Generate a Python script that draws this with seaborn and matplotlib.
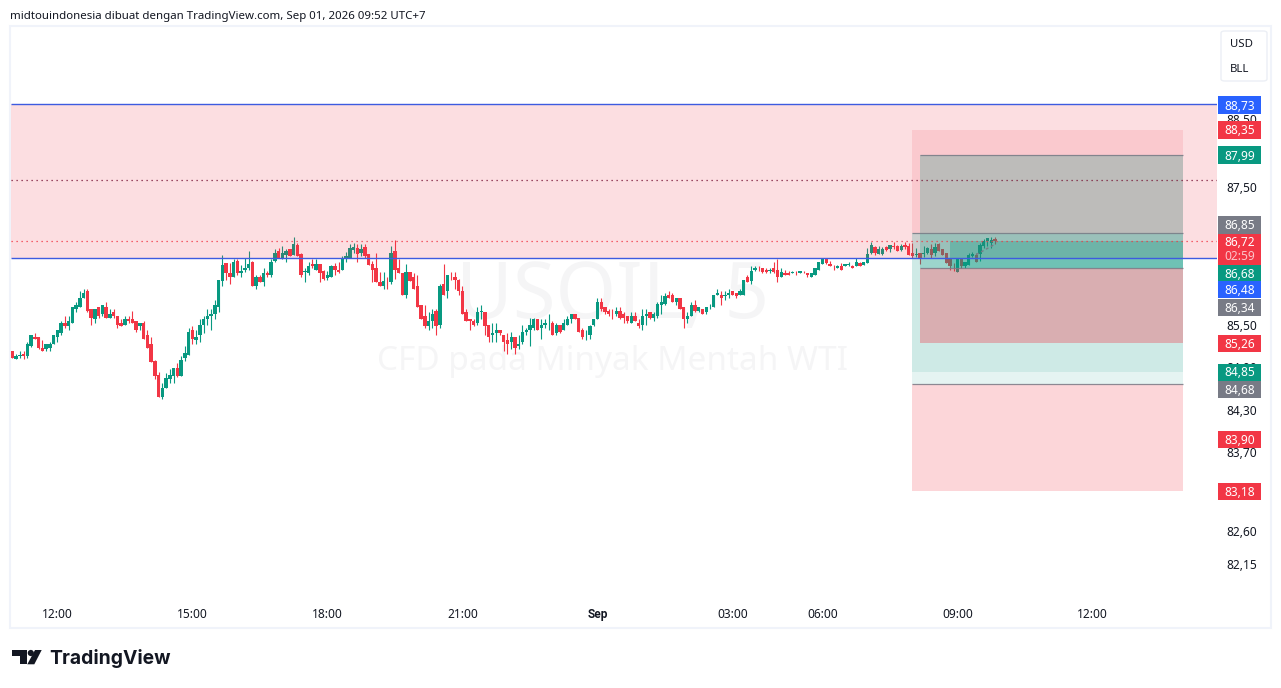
import numpy as np
import pandas as pd
import matplotlib
matplotlib.use("Agg")
import matplotlib.pyplot as plt
from matplotlib.patches import Rectangle, Polygon, Ellipse, FancyBboxPatch
from matplotlib.ticker import NullLocator
from matplotlib.transforms import ScaledTranslation
import seaborn as sns

W, H = 1281, 688
UP = "#089981"
DOWN = "#f23645"
GREY = "#787b86"
BLUE = "#2962ff"

# 5 minute candles, first bar is 11:00
directions = (
    "rggrggrrrg" "ggggrggggg" "rrgrgrgrrr" "grrrgrrrrr" "ggggrgggrg"
    "gggggggrrg" "rgggrgrgrg" "grggrgrrgg" "rgrrggrrgg" "ggrgrrrrrg"
    "rgrrrgrrrr" "rggrgrgrrr" "rrrrggrrgg" "rrrgrggggg" "rgggrgrggg"
    "rrrggggrrr" "rgrrrgrrgg" "rggggrrgrr" "ggrgrggggr" "ggrrggrggr"
    "rrgrrgrrgr" "grrggggrrr" "grggrgrggg" "rggrgrrgrr" "rgrggrgrrr"
    "rrgrgggrgg" "ggr"
)
body_top = [
    85.14, 85.08, 85.09, 85.11, 85.24, 85.37, 85.34, 85.34, 85.19, 85.24,
    85.25, 85.37, 85.44, 85.54, 85.54, 85.58, 85.78, 85.80, 85.91, 85.98,
    86.00, 85.74, 85.74, 85.77, 85.80, 85.78, 85.68, 85.70, 85.64, 85.54,
    85.61, 85.61, 85.61, 85.57, 85.54, 85.55, 85.37, 85.24, 85.01, 84.81,
    84.62, 84.76, 84.81, 84.91, 84.91, 85.02, 85.12, 85.42, 85.44, 85.34,
    85.51, 85.60, 85.64, 85.68, 85.81, 86.17, 86.38, 86.41, 86.26, 86.43,
    86.44, 86.30, 86.33, 86.40, 86.43, 86.21, 86.20, 86.27, 86.26, 86.43,
    86.56, 86.58, 86.56, 86.58, 86.61, 86.69, 86.67, 86.54, 86.30, 86.37,
    86.40, 86.40, 86.40, 86.29, 86.23, 86.37, 86.36, 86.31, 86.48, 86.51,
    86.63, 86.64, 86.63, 86.61, 86.64, 86.54, 86.40, 86.34, 86.14, 86.15,
    86.14, 86.56, 86.58, 86.33, 86.27, 86.28, 86.28, 86.20, 86.08, 85.81,
    85.64, 85.57, 85.68, 85.72, 86.08, 86.10, 86.23, 86.21, 86.21, 86.17,
    86.00, 85.71, 85.61, 85.58, 85.71, 85.72, 85.71, 85.51, 85.40, 85.44,
    85.44, 85.38, 85.30, 85.34, 85.34, 85.24, 85.41, 85.44, 85.51, 85.61,
    85.60, 85.51, 85.55, 85.58, 85.55, 85.51, 85.51, 85.54, 85.61, 85.67,
    85.68, 85.62, 85.45, 85.38, 85.50, 85.60, 85.85, 85.84, 85.77, 85.72,
    85.68, 85.72, 85.72, 85.67, 85.65, 85.64, 85.65, 85.55, 85.65, 85.68,
    85.70, 85.67, 85.82, 85.85, 85.93, 85.94, 85.94, 85.91, 85.90, 85.78,
    85.65, 85.80, 85.81, 85.78, 85.74, 85.78, 85.78, 85.94, 85.98, 85.95,
    85.94, 85.97, 86.00, 85.97, 86.01, 86.17, 86.20, 86.30, 86.34, 86.34,
    86.34, 86.31, 86.31, 86.33, 86.31, 86.28, 86.26, 86.26, 86.28, 86.27,
    86.30, 86.27, 86.26, 86.26, 86.33, 86.43, 86.48, 86.47, 86.40, 86.37,
    86.37, 86.37, 86.40, 86.40, 86.37, 86.43, 86.41, 86.43, 86.54, 86.67,
    86.64, 86.61, 86.61, 86.64, 86.67, 86.66, 86.66, 86.66, 86.67, 86.66,
    86.56, 86.54, 86.56, 86.56, 86.63, 86.61, 86.64, 86.69, 86.61, 86.56,
    86.46, 86.37, 86.46, 86.47, 86.43, 86.53, 86.54, 86.53, 86.67, 86.73,
    86.77, 86.74, 86.76,
]
body_bottom = [
    85.05, 85.03, 85.08, 85.07, 85.07, 85.22, 85.32, 85.19, 85.15, 85.17,
    85.19, 85.25, 85.34, 85.40, 85.50, 85.50, 85.55, 85.74, 85.78, 85.91,
    85.72, 85.62, 85.60, 85.65, 85.67, 85.62, 85.62, 85.65, 85.52, 85.50,
    85.51, 85.57, 85.55, 85.45, 85.50, 85.32, 85.19, 84.99, 84.79, 84.50,
    84.49, 84.62, 84.75, 84.79, 84.79, 84.79, 85.04, 85.09, 85.32, 85.30,
    85.37, 85.51, 85.61, 85.64, 85.68, 85.78, 86.15, 86.26, 86.21, 86.21,
    86.27, 86.26, 86.31, 86.33, 86.08, 86.08, 86.13, 86.14, 86.24, 86.24,
    86.44, 86.48, 86.48, 86.53, 86.51, 86.53, 86.51, 86.23, 86.28, 86.27,
    86.36, 86.31, 86.27, 86.18, 86.19, 86.21, 86.31, 86.28, 86.31, 86.48,
    86.48, 86.60, 86.54, 86.56, 86.51, 86.38, 86.31, 86.13, 86.07, 86.08,
    86.13, 86.13, 86.31, 86.26, 85.95, 85.95, 86.15, 86.04, 85.78, 85.60,
    85.50, 85.50, 85.57, 85.50, 85.52, 85.95, 86.00, 86.20, 86.17, 86.00,
    85.67, 85.57, 85.57, 85.52, 85.54, 85.70, 85.50, 85.35, 85.37, 85.40,
    85.40, 85.27, 85.25, 85.28, 85.19, 85.22, 85.27, 85.42, 85.45, 85.47,
    85.45, 85.47, 85.52, 85.57, 85.37, 85.40, 85.41, 85.45, 85.52, 85.60,
    85.61, 85.42, 85.35, 85.37, 85.37, 85.51, 85.60, 85.74, 85.70, 85.68,
    85.67, 85.68, 85.62, 85.62, 85.57, 85.55, 85.57, 85.50, 85.51, 85.64,
    85.62, 85.62, 85.64, 85.81, 85.82, 85.90, 85.85, 85.85, 85.75, 85.60,
    85.60, 85.65, 85.72, 85.72, 85.67, 85.70, 85.77, 85.78, 85.94, 85.91,
    85.93, 85.94, 85.94, 85.93, 85.95, 85.95, 86.14, 86.15, 86.31, 86.33,
    86.28, 86.28, 86.30, 86.28, 86.21, 86.20, 86.24, 86.24, 86.26, 86.26,
    86.26, 86.26, 86.23, 86.21, 86.23, 86.31, 86.40, 86.41, 86.37, 86.36,
    86.33, 86.31, 86.36, 86.38, 86.33, 86.36, 86.37, 86.38, 86.41, 86.56,
    86.56, 86.54, 86.54, 86.60, 86.61, 86.64, 86.58, 86.60, 86.64, 86.53,
    86.51, 86.53, 86.47, 86.54, 86.56, 86.53, 86.56, 86.58, 86.53, 86.41,
    86.36, 86.36, 86.28, 86.36, 86.36, 86.38, 86.51, 86.43, 86.54, 86.66,
    86.73, 86.70, 86.72,
]
wick_high = [
    85.14, 85.11, 85.14, 85.14, 85.27, 85.38, 85.40, 85.34, 85.30, 85.24,
    85.28, 85.38, 85.44, 85.58, 85.64, 85.64, 85.78, 85.84, 86.00, 86.03,
    86.03, 85.74, 85.74, 85.77, 85.81, 85.84, 85.74, 85.74, 85.64, 85.61,
    85.64, 85.64, 85.72, 85.57, 85.55, 85.57, 85.44, 85.34, 85.02, 84.85,
    84.69, 84.84, 84.89, 84.91, 84.98, 85.08, 85.22, 85.47, 85.50, 85.45,
    85.60, 85.65, 85.75, 85.74, 85.88, 86.17, 86.53, 86.41, 86.41, 86.47,
    86.46, 86.38, 86.48, 86.58, 86.44, 86.23, 86.24, 86.33, 86.30, 86.46,
    86.61, 86.63, 86.66, 86.61, 86.61, 86.79, 86.70, 86.56, 86.33, 86.43,
    86.46, 86.47, 86.40, 86.31, 86.30, 86.38, 86.41, 86.43, 86.51, 86.57,
    86.69, 86.70, 86.69, 86.69, 86.69, 86.54, 86.44, 86.56, 86.28, 86.28,
    86.21, 86.66, 86.74, 86.46, 86.27, 86.40, 86.28, 86.27, 86.24, 85.81,
    85.81, 85.70, 85.74, 85.74, 86.11, 86.40, 86.23, 86.28, 86.28, 86.18,
    86.07, 85.75, 85.61, 85.60, 85.78, 85.81, 85.71, 85.51, 85.55, 85.55,
    85.44, 85.38, 85.40, 85.41, 85.35, 85.38, 85.51, 85.48, 85.62, 85.62,
    85.60, 85.60, 85.61, 85.67, 85.57, 85.54, 85.52, 85.61, 85.64, 85.67,
    85.68, 85.62, 85.48, 85.45, 85.51, 85.61, 85.91, 85.90, 85.78, 85.75,
    85.74, 85.78, 85.78, 85.70, 85.65, 85.70, 85.70, 85.60, 85.74, 85.74,
    85.71, 85.70, 85.84, 85.94, 85.98, 86.01, 85.98, 85.91, 85.90, 85.78,
    85.70, 85.84, 85.87, 85.78, 85.74, 85.78, 85.82, 85.95, 86.03, 86.01,
    86.01, 86.03, 86.01, 85.98, 86.03, 86.17, 86.23, 86.37, 86.37, 86.37,
    86.34, 86.33, 86.34, 86.43, 86.46, 86.34, 86.31, 86.30, 86.30, 86.30,
    86.30, 86.30, 86.27, 86.26, 86.33, 86.43, 86.48, 86.48, 86.44, 86.38,
    86.38, 86.41, 86.40, 86.43, 86.38, 86.48, 86.43, 86.43, 86.63, 86.71,
    86.66, 86.66, 86.64, 86.66, 86.67, 86.71, 86.67, 86.69, 86.71, 86.70,
    86.70, 86.63, 86.56, 86.66, 86.64, 86.69, 86.70, 86.70, 86.61, 86.56,
    86.46, 86.41, 86.46, 86.47, 86.43, 86.56, 86.57, 86.56, 86.70, 86.76,
    86.77, 86.79, 86.79,
]
wick_low = [
    85.04, 85.03, 85.04, 85.03, 85.05, 85.21, 85.31, 85.18, 85.14, 85.14,
    85.14, 85.24, 85.28, 85.37, 85.48, 85.44, 85.55, 85.71, 85.78, 85.91,
    85.71, 85.52, 85.55, 85.62, 85.64, 85.62, 85.62, 85.62, 85.48, 85.50,
    85.51, 85.54, 85.55, 85.42, 85.45, 85.32, 85.19, 84.99, 84.75, 84.50,
    84.46, 84.62, 84.69, 84.69, 84.78, 84.79, 85.01, 85.09, 85.24, 85.25,
    85.27, 85.40, 85.52, 85.44, 85.61, 85.71, 86.07, 86.17, 86.10, 86.20,
    86.23, 86.20, 86.28, 86.31, 86.08, 86.04, 86.13, 86.07, 86.20, 86.20,
    86.43, 86.48, 86.46, 86.43, 86.51, 86.53, 86.51, 86.21, 86.13, 86.24,
    86.34, 86.31, 86.13, 86.17, 86.17, 86.21, 86.24, 86.27, 86.31, 86.43,
    86.48, 86.56, 86.43, 86.51, 86.48, 86.38, 86.14, 86.13, 86.07, 86.04,
    86.04, 86.11, 86.18, 86.26, 85.94, 85.91, 86.15, 86.03, 85.77, 85.60,
    85.48, 85.45, 85.47, 85.38, 85.47, 85.95, 85.91, 86.17, 86.04, 85.95,
    85.67, 85.57, 85.44, 85.50, 85.52, 85.61, 85.38, 85.27, 85.27, 85.28,
    85.38, 85.14, 85.11, 85.17, 85.11, 85.18, 85.24, 85.38, 85.22, 85.45,
    85.44, 85.32, 85.48, 85.45, 85.37, 85.37, 85.40, 85.44, 85.51, 85.54,
    85.60, 85.42, 85.32, 85.30, 85.31, 85.50, 85.60, 85.72, 85.67, 85.65,
    85.61, 85.64, 85.61, 85.54, 85.55, 85.54, 85.57, 85.48, 85.45, 85.51,
    85.61, 85.58, 85.62, 85.68, 85.81, 85.90, 85.84, 85.81, 85.74, 85.47,
    85.54, 85.64, 85.71, 85.71, 85.67, 85.68, 85.75, 85.78, 85.94, 85.80,
    85.87, 85.90, 85.94, 85.91, 85.95, 85.95, 86.14, 86.10, 86.30, 86.30,
    86.27, 86.27, 86.27, 86.27, 86.14, 86.20, 86.23, 86.23, 86.26, 86.23,
    86.26, 86.26, 86.21, 86.20, 86.23, 86.31, 86.40, 86.40, 86.36, 86.31,
    86.33, 86.31, 86.36, 86.37, 86.33, 86.36, 86.36, 86.38, 86.41, 86.54,
    86.53, 86.54, 86.53, 86.58, 86.57, 86.61, 86.58, 86.58, 86.61, 86.53,
    86.48, 86.50, 86.40, 86.50, 86.54, 86.48, 86.51, 86.58, 86.53, 86.41,
    86.31, 86.30, 86.28, 86.34, 86.34, 86.38, 86.50, 86.43, 86.44, 86.63,
    86.66, 86.63, 86.69,
]

# price axis
price_ticks = [88.50, 87.50, 85.50, 84.90, 84.30, 83.70, 83.15, 82.60, 82.15]
price_tick_labels = ["88,50", "87,50", "85,50", "84,90", "84,30", "83,70", "83,15", "82,60", "82,15"]

# time axis (candle number of each label)
time_ticks = [12, 48, 84, 120, 156, 192, 216, 252, 288]
time_labels = ["12:00", "15:00", "18:00", "21:00", "Sep", "03:00", "06:00", "09:00", "12:00"]

# horizontal levels drawn on the chart
zone_top = 88.73
zone_bottom = 86.48
dotted_level = 87.62
last_price = 86.72

# position tools: (left bar, right bar, price a, price b, colour, alpha)
tool_boxes = [
    (240, 312.2, 88.35, 86.85, DOWN, 0.12),
    (240, 312.2, 86.85, 84.68, UP, 0.10),
    (240, 312.2, 86.85, 84.85, UP, 0.10),
    (240, 312.2, 84.68, 83.18, DOWN, 0.20),
    (242, 312.2, 87.99, 86.34, UP, 0.25),
    (242, 312.2, 86.34, 85.26, DOWN, 0.33),
    (250, 312.2, 86.72, 86.34, UP, 0.30),
]
tool_lines = [(242, 87.99), (240, 86.85), (242, 86.34), (240, 84.68)]
tool_right = 312.2
forecast_bars = [257, 262]
forecast_prices = [86.53, 86.68]

# right hand price badges, centre pixel row is layout not a price
badge_labels = ["88,73", "88,35", "87,99", "86,85", "86,68", "86,48", "86,34", "85,26", "84,85", "84,68", "83,90", "83,18"]
badge_colors = [BLUE, DOWN, UP, GREY, UP, BLUE, GREY, DOWN, UP, GREY, DOWN, DOWN]
badge_rows = [105, 130, 155, 225, 273, 289.5, 307, 343, 372, 389, 439, 491]

sns.set_theme(style="white")
plt.rcParams["font.family"] = ["Noto Sans", "DejaVu Sans"]
plt.rcParams["axes.unicode_minus"] = False

df = pd.DataFrame({
    "bar": np.arange(len(body_top)),
    "body_top": body_top,
    "body_bottom": body_bottom,
    "high": wick_high,
    "low": wick_low,
    "direction": list(directions),
})
df["height"] = df["body_top"] - df["body_bottom"]

fig = plt.figure(figsize=(W / 100, H / 100), dpi=100, facecolor="white")


def px_box(x0, y0, x1, y1, **kw):
    fig.add_artist(Rectangle((x0 / W, 1 - y1 / H), (x1 - x0) / W, (y1 - y0) / H,
                             transform=fig.transFigure, **kw))


def px_text(x, y, s, **kw):
    fig.text(x / W, 1 - (y + 1) / H, s, va="center", **kw)


# chart frame
px_box(10, 26, 1271, 628, facecolor="white", edgecolor="#f0f3fa", linewidth=1.5, zorder=0)

ax = fig.add_axes([11 / W, 1 - 600 / H, 1206 / W, 573 / H])
ax.patch.set_alpha(0)

# watermark sits under everything
ax.text(0.499, 0.492, "USOIL, 5", transform=ax.transAxes, ha="center", va="baseline",
        fontsize=56, color="#f5f5f6", zorder=0)
ax.text(0.499, 0.401, "CFD pada Minyak Mentah WTI", transform=ax.transAxes, ha="center", va="baseline",
        fontsize=24, color="#f5f5f6", zorder=0)

ax.vlines(df["bar"], df["low"], df["high"],
          colors=[UP if d == "g" else DOWN for d in df["direction"]], linewidth=0.8, zorder=2)

for key, color in (("g", UP), ("r", DOWN)):
    part = df[df["direction"] == key]
    sns.barplot(x=part["bar"].values, y=part["height"].values, bottom=part["body_bottom"].values,
                native_scale=True, color=color, saturation=1, width=0.9, errorbar=None,
                linewidth=0, ax=ax, zorder=2)

ax.set_yscale("log")
ax.set_xlim(-0.373, 321.2)
ax.set_ylim(81.673, 89.887)

x0, x1 = ax.get_xlim()

# resistance zone and levels
ax.fill_between([x0, x1], zone_bottom, zone_top, color=DOWN, alpha=0.16, linewidth=0, zorder=3)
ax.hlines([zone_top, zone_bottom], x0, x1, color="#3d5be0", linewidth=1.0, zorder=4)
ax.hlines(dotted_level, x0, x1, color="#7b1a3a", linewidth=0.9, linestyle=(0, (1, 3)), zorder=4)
ax.hlines(last_price, x0, x1, color=DOWN, linewidth=0.9, linestyle=(0, (1, 3)), zorder=4)

# long / short tool boxes sit over the candles
for left, right, a, b, color, alpha in tool_boxes:
    ax.fill_between([left, right], b, a, color=color, alpha=alpha, linewidth=0, zorder=3)
for left, level in tool_lines:
    ax.hlines(level, left, tool_right, color=GREY, linewidth=0.9, alpha=0.85, zorder=4)
ax.plot(forecast_bars, forecast_prices, color=GREY, linewidth=1, linestyle=(0, (2, 2)), zorder=4)

ax.yaxis.tick_right()
ax.set_yticks(price_ticks, price_tick_labels)
ax.yaxis.set_minor_locator(NullLocator())
ax.tick_params(axis="y", length=0, pad=6.5, labelsize=8.6, labelcolor="#131722")
ax.set_xticks(time_ticks, time_labels)
ax.tick_params(axis="x", length=0, pad=6, labelsize=8.6, labelcolor="#131722")
ax.get_xticklabels()[4].set_fontweight("bold")
ax.get_xticklabels()[4].set_fontfamily("Roboto")
lift = ScaledTranslation(0, 1.2 / 100, fig.dpi_scale_trans)
for label in ax.get_yticklabels():
    label.set_transform(label.get_transform() + lift)
ax.set_xlabel("")
ax.set_ylabel("")
sns.despine(ax=ax, left=True, bottom=True, top=True, right=True)

# title line
px_text(10, 15, "midtouindonesia dibuat dengan TradingView.com, Sep 01, 2026 09:52 UTC+7",
        fontsize=8.25, color="#131722")

# price badges
for label, color, row in zip(badge_labels, badge_colors, badge_rows):
    px_box(1218, row - 8.5, 1261, row + 8.5, facecolor=color, edgecolor="none", zorder=5)
    px_text(1239.5, row, label, ha="center", fontsize=8.6, color="white", fontweight="medium", zorder=6)

px_box(1218, 234, 1261, 265, facecolor=DOWN, edgecolor="none", zorder=5)
px_text(1239.5, 241.5, "86,72", ha="center", fontsize=8.6, color="white", zorder=6)
px_text(1239.5, 255.5, "02:59", ha="center", fontsize=8.6, color="#fcc4c9", zorder=6)

# currency / unit box
fig.add_artist(FancyBboxPatch((1221 / W, 1 - 81 / H), 46 / W, 50 / H, boxstyle="round,pad=0,rounding_size=0.003",
                              transform=fig.transFigure, facecolor="white", edgecolor="#eceff5",
                              linewidth=1, zorder=5))
px_text(1230, 43.5, "USD", fontsize=8.2, color="#131722", zorder=6)
px_text(1230, 69, "BLL", fontsize=8.2, color="#131722", zorder=6)

# logo
logo_color = "#131722"
logo_t = [(12, 650), (26.7, 650), (26.7, 664.3), (20, 664.3), (20, 655.7), (12, 655.7)]
logo_slash = [(35, 650), (41.7, 650), (34.3, 664.3), (27.3, 664.3)]
for shape in (logo_t, logo_slash):
    fig.add_artist(Polygon([(x / W, 1 - y / H) for x, y in shape], closed=True,
                           transform=fig.transFigure, facecolor=logo_color, edgecolor="none"))
fig.add_artist(Ellipse((30.8 / W, 1 - 653 / H), 6.2 / W, 6.2 / H, transform=fig.transFigure,
                       facecolor=logo_color, edgecolor="none"))
px_text(49, 658, "TradingView", fontsize=13.9, color=logo_color, fontweight="bold",
        family=["Inter", "Noto Sans"])

fig.savefig("out.png", dpi=100)
